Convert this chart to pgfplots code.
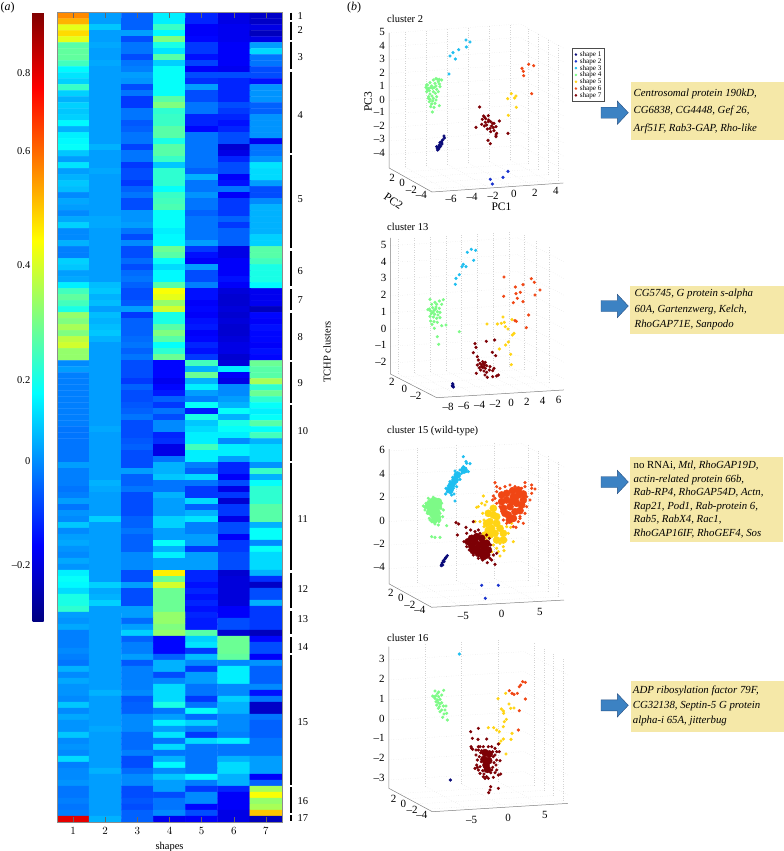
\documentclass[border=0pt]{standalone}
\usepackage{fontspec}
\setmainfont{Liberation Serif}
\usepackage{pgfplots}
\pgfplotsset{compat=1.18}

\definecolor{sa}{RGB}{10,10,120}
\definecolor{sb}{RGB}{25,50,205}
\definecolor{sc}{RGB}{30,190,240}
\definecolor{sd}{RGB}{125,250,135}
\definecolor{se}{RGB}{255,212,20}
\definecolor{sf}{RGB}{240,70,20}
\definecolor{sg}{RGB}{125,0,5}
\definecolor{boxy}{RGB}{245,232,168}
\definecolor{arrowb}{RGB}{60,130,195}
\definecolor{arrowd}{RGB}{40,80,130}

\pgfplotsset{
  pts/.style={only marks, mark=*, mark size=1.4pt, color=#1, mark options={draw=none, fill=#1}},
  core/.style={only marks, mark=*, mark size=3.6pt, color=#1, mark options={draw=none, fill=#1}, forget plot},
  overlay axis/.style={scale only axis, hide axis, clip=false, y dir=reverse, xmin=0, xmax=1332, ymin=0},
  frame3d/.style={
    grid=major, grid style={dotted, black!17, line width=0.3pt},
    axis line style={draw=none}, tick style={draw=none}, clip=false,
    tick label style={font=\fontsize{11}{11}\selectfont, inner sep=1.5pt},
    zticklabel style={xshift=-2.5pt},
    anchor=origin},
}
\newcommand{\framepath}[6]{\addplot3[black!50, line width=0.5pt, forget plot] coordinates {(#1,#4,#6) (#1,#4,#5) (#1,#3,#5) (#2,#3,#5)};}

\begin{document}
\begin{tikzpicture}
\useasboundingbox (0pt,0pt) rectangle (784pt,-851pt);

% (a) heat map, values given as position in the colour scale (0-100)
\begin{axis}[
  at={(57pt,-12.5pt)}, anchor=north west,
  scale only axis, width=225pt, height=809.5pt,
  xmin=0.5, xmax=7.5, ymin=-0.5, ymax=134.5, y dir=reverse,
  xtick={1,...,7}, ytick=\empty,
  axis line style={black!45, line width=0.4pt},
  axis on top,
  major tick length=5pt,
  tick style={black!60, line width=0.4pt},
  tick label style={font=\fontsize{10.5}{10.5}\selectfont},
  xticklabel style={yshift=-2pt},
  xlabel={shapes},
  xlabel style={font=\fontsize{10.5}{10.5}\selectfont, at={(axis description cs:0.5,0)}, anchor=north, yshift=-17pt},
  colormap/jet, point meta min=0, point meta max=100,
  colorbar,
  colorbar style={
    at={(parent axis.north west)}, anchor=north east, xshift=-22pt,
    width=11pt, height=609pt,
    ytick={9.2,26.3,39.7,58.5,77.3,90.1},
    yticklabels={--0.2,0,0.2,0.4,0.6,0.8},
    yticklabel pos=left,
    tick style={draw=none}, axis line style={draw=none},
    yticklabel style={font=\fontsize{10.5}{10.5}\selectfont, inner sep=2pt},
  },
]
\addplot[matrix plot*, mesh/cols=7, point meta=\thisrowno{0}] table[
  row sep=\\, header=false,
  x expr={mod(\coordindex,7)+1}, y expr={floor((\coordindex+0.5)/7)}] {
74\\ 28\\ 22\\ 36\\ 16\\ 10\\ 7\\
70\\ 28\\ 22\\ 36\\ 16\\ 10\\ 7\\
60\\ 32\\ 22\\ 43\\ 12\\ 11\\ 10\\
66\\ 28\\ 28\\ 37\\ 12\\ 11\\ 6\\
60\\ 28\\ 20\\ 50\\ 13\\ 11\\ 10\\
46\\ 29\\ 24\\ 40\\ 18\\ 12\\ 28\\
47\\ 28\\ 24\\ 35\\ 18\\ 12\\ 34\\
47\\ 28\\ 20\\ 46\\ 14\\ 12\\ 24\\
44\\ 29\\ 24\\ 33\\ 19\\ 12\\ 24\\
37\\ 28\\ 25\\ 38\\ 12\\ 11\\ 20\\
35\\ 28\\ 28\\ 38\\ 20\\ 20\\ 20\\
33\\ 28\\ 27\\ 38\\ 17\\ 16\\ 14\\
43\\ 28\\ 20\\ 38\\ 28\\ 16\\ 27\\
33\\ 28\\ 24\\ 38\\ 20\\ 16\\ 27\\
30\\ 28\\ 18\\ 46\\ 20\\ 16\\ 27\\
33\\ 28\\ 18\\ 50\\ 24\\ 20\\ 22\\
32\\ 28\\ 24\\ 42\\ 24\\ 18\\ 22\\
33\\ 28\\ 24\\ 43\\ 16\\ 16\\ 27\\
37\\ 28\\ 21\\ 43\\ 16\\ 14\\ 27\\
30\\ 28\\ 22\\ 46\\ 13\\ 16\\ 27\\
36\\ 28\\ 24\\ 46\\ 24\\ 20\\ 27\\
37\\ 28\\ 24\\ 40\\ 24\\ 20\\ 11\\
38\\ 30\\ 19\\ 46\\ 24\\ 8\\ 24\\
32\\ 28\\ 24\\ 46\\ 24\\ 10\\ 24\\
28\\ 28\\ 24\\ 43\\ 24\\ 16\\ 27\\
35\\ 28\\ 18\\ 32\\ 24\\ 20\\ 35\\
28\\ 29\\ 20\\ 42\\ 22\\ 20\\ 34\\
30\\ 28\\ 20\\ 42\\ 30\\ 12\\ 34\\
32\\ 28\\ 18\\ 42\\ 24\\ 14\\ 28\\
31\\ 28\\ 22\\ 38\\ 24\\ 24\\ 20\\
26\\ 28\\ 24\\ 43\\ 27\\ 12\\ 20\\
29\\ 28\\ 20\\ 44\\ 24\\ 18\\ 26\\
28\\ 28\\ 20\\ 45\\ 24\\ 18\\ 30\\
26\\ 28\\ 27\\ 38\\ 22\\ 18\\ 30\\
29\\ 29\\ 27\\ 38\\ 24\\ 22\\ 30\\
33\\ 29\\ 28\\ 38\\ 24\\ 18\\ 30\\
26\\ 28\\ 24\\ 36\\ 24\\ 22\\ 30\\
26\\ 28\\ 20\\ 37\\ 24\\ 22\\ 33\\
30\\ 28\\ 26\\ 37\\ 28\\ 22\\ 33\\
25\\ 28\\ 20\\ 48\\ 18\\ 10\\ 46\\
25\\ 28\\ 20\\ 46\\ 14\\ 10\\ 46\\
33\\ 28\\ 23\\ 38\\ 12\\ 12\\ 44\\
32\\ 28\\ 20\\ 34\\ 28\\ 12\\ 40\\
28\\ 28\\ 23\\ 37\\ 20\\ 12\\ 40\\
29\\ 28\\ 24\\ 37\\ 20\\ 14\\ 40\\
36\\ 31\\ 22\\ 46\\ 25\\ 12\\ 37\\
44\\ 32\\ 20\\ 62\\ 14\\ 9\\ 11\\
47\\ 30\\ 20\\ 60\\ 14\\ 8\\ 11\\
44\\ 31\\ 21\\ 52\\ 12\\ 8\\ 11\\
40\\ 28\\ 28\\ 58\\ 13\\ 9\\ 6\\
52\\ 31\\ 18\\ 40\\ 12\\ 8\\ 13\\
50\\ 30\\ 22\\ 40\\ 14\\ 9\\ 12\\
54\\ 31\\ 22\\ 46\\ 15\\ 8\\ 14\\
50\\ 32\\ 22\\ 50\\ 12\\ 8\\ 13\\
56\\ 30\\ 23\\ 46\\ 13\\ 9\\ 13\\
58\\ 28\\ 24\\ 38\\ 16\\ 10\\ 12\\
52\\ 28\\ 22\\ 42\\ 14\\ 10\\ 14\\
52\\ 28\\ 24\\ 48\\ 18\\ 8\\ 13\\
26\\ 28\\ 20\\ 13\\ 44\\ 9\\ 48\\
28\\ 28\\ 20\\ 13\\ 30\\ 36\\ 46\\
25\\ 28\\ 20\\ 13\\ 48\\ 12\\ 46\\
25\\ 28\\ 18\\ 11\\ 30\\ 10\\ 54\\
25\\ 28\\ 22\\ 13\\ 36\\ 26\\ 42\\
25\\ 28\\ 20\\ 15\\ 28\\ 26\\ 48\\
25\\ 28\\ 20\\ 22\\ 25\\ 28\\ 42\\
25\\ 28\\ 21\\ 18\\ 38\\ 30\\ 38\\
25\\ 28\\ 22\\ 24\\ 15\\ 38\\ 36\\
25\\ 28\\ 24\\ 20\\ 40\\ 30\\ 38\\
25\\ 28\\ 20\\ 26\\ 32\\ 40\\ 46\\
24\\ 29\\ 20\\ 26\\ 34\\ 38\\ 38\\
24\\ 28\\ 20\\ 16\\ 36\\ 36\\ 44\\
24\\ 28\\ 21\\ 17\\ 36\\ 26\\ 30\\
24\\ 28\\ 22\\ 10\\ 44\\ 36\\ 34\\
24\\ 28\\ 20\\ 10\\ 36\\ 36\\ 34\\
24\\ 28\\ 20\\ 24\\ 36\\ 28\\ 34\\
28\\ 28\\ 20\\ 30\\ 25\\ 16\\ 27\\
25\\ 28\\ 28\\ 30\\ 22\\ 16\\ 43\\
25\\ 28\\ 22\\ 32\\ 34\\ 12\\ 30\\
25\\ 30\\ 22\\ 24\\ 24\\ 20\\ 38\\
24\\ 29\\ 24\\ 24\\ 18\\ 10\\ 42\\
25\\ 28\\ 20\\ 30\\ 18\\ 18\\ 42\\
28\\ 28\\ 20\\ 28\\ 34\\ 8\\ 42\\
24\\ 28\\ 20\\ 28\\ 22\\ 18\\ 46\\
27\\ 28\\ 20\\ 28\\ 30\\ 18\\ 46\\
26\\ 33\\ 22\\ 33\\ 35\\ 10\\ 46\\
32\\ 28\\ 22\\ 33\\ 25\\ 20\\ 30\\
26\\ 28\\ 24\\ 28\\ 25\\ 20\\ 38\\
28\\ 28\\ 22\\ 28\\ 28\\ 12\\ 38\\
29\\ 28\\ 22\\ 38\\ 28\\ 18\\ 26\\
27\\ 28\\ 22\\ 30\\ 18\\ 18\\ 38\\
26\\ 28\\ 26\\ 36\\ 28\\ 20\\ 34\\
29\\ 28\\ 26\\ 28\\ 28\\ 20\\ 34\\
27\\ 28\\ 26\\ 28\\ 28\\ 20\\ 34\\
36\\ 28\\ 20\\ 64\\ 16\\ 8\\ 30\\
38\\ 28\\ 20\\ 48\\ 16\\ 9\\ 17\\
37\\ 33\\ 28\\ 58\\ 14\\ 9\\ 7\\
34\\ 29\\ 20\\ 48\\ 16\\ 9\\ 20\\
40\\ 30\\ 20\\ 48\\ 14\\ 9\\ 20\\
40\\ 33\\ 20\\ 48\\ 16\\ 9\\ 30\\
42\\ 28\\ 28\\ 48\\ 14\\ 12\\ 18\\
28\\ 28\\ 28\\ 52\\ 16\\ 12\\ 18\\
27\\ 28\\ 23\\ 52\\ 15\\ 20\\ 18\\
29\\ 28\\ 28\\ 50\\ 15\\ 20\\ 18\\
25\\ 28\\ 33\\ 52\\ 46\\ 8\\ 6\\
25\\ 28\\ 22\\ 13\\ 33\\ 48\\ 13\\
25\\ 28\\ 25\\ 13\\ 35\\ 48\\ 20\\
26\\ 28\\ 25\\ 13\\ 18\\ 48\\ 20\\
25\\ 28\\ 28\\ 22\\ 31\\ 47\\ 12\\
24\\ 28\\ 21\\ 30\\ 26\\ 26\\ 27\\
30\\ 28\\ 25\\ 30\\ 18\\ 36\\ 22\\
26\\ 28\\ 25\\ 20\\ 28\\ 36\\ 22\\
29\\ 28\\ 25\\ 26\\ 28\\ 36\\ 22\\
27\\ 28\\ 25\\ 34\\ 24\\ 26\\ 26\\
27\\ 30\\ 26\\ 34\\ 24\\ 26\\ 14\\
26\\ 28\\ 21\\ 34\\ 18\\ 33\\ 24\\
32\\ 28\\ 22\\ 40\\ 24\\ 30\\ 7\\
26\\ 28\\ 22\\ 24\\ 38\\ 30\\ 7\\
29\\ 28\\ 26\\ 28\\ 23\\ 26\\ 24\\
27\\ 28\\ 26\\ 36\\ 33\\ 26\\ 22\\
27\\ 29\\ 26\\ 28\\ 25\\ 26\\ 22\\
32\\ 28\\ 23\\ 35\\ 18\\ 25\\ 22\\
26\\ 28\\ 23\\ 24\\ 34\\ 36\\ 24\\
27\\ 28\\ 23\\ 34\\ 24\\ 24\\ 24\\
26\\ 28\\ 25\\ 24\\ 24\\ 24\\ 24\\
34\\ 28\\ 20\\ 30\\ 24\\ 30\\ 28\\
25\\ 28\\ 20\\ 37\\ 24\\ 34\\ 28\\
26\\ 30\\ 23\\ 26\\ 24\\ 34\\ 28\\
26\\ 28\\ 26\\ 32\\ 37\\ 30\\ 12\\
27\\ 28\\ 26\\ 28\\ 25\\ 30\\ 22\\
24\\ 28\\ 20\\ 28\\ 18\\ 16\\ 54\\
24\\ 28\\ 20\\ 20\\ 26\\ 12\\ 62\\
25\\ 28\\ 21\\ 24\\ 26\\ 12\\ 52\\
24\\ 28\\ 20\\ 24\\ 13\\ 12\\ 54\\
25\\ 28\\ 22\\ 26\\ 20\\ 10\\ 68\\
90\\ 30\\ 22\\ 11\\ 12\\ 10\\ 6\\
};
\end{axis}

% (b) 3D frames
\begin{axis}[frame3d, at={(485.75pt,-105.1pt)},
  x={(10.5pt,0.72pt)}, y={(-5pt,2.8pt)}, z={(0pt,13.5pt)},
  xmin=-7.5, xmax=5, ymin=-5, ymax=3.6, zmin=-5, zmax=5,
  xtick={-6,-4,-2,0,2,4}, xticklabels={--6,--4,--2,0,2,4},
  xticklabel style={yshift=-2pt},
  ytick={-4,-2,0,2}, yticklabels={--4,--2,0,2},
  ztick={-4,...,5}, zticklabels={--4,--3,--2,--1,0,1,2,3,4,5}]
\framepath{-7.5}{5}{-5}{3.6}{-5}{5}
\end{axis}
\begin{axis}[frame3d, at={(480.3pt,-334.7pt)},
  x={(7.9pt,0.48pt)}, y={(-6.25pt,3.2pt)}, z={(0pt,16.76pt)},
  xmin=-9, xmax=7.1, ymin=-4.4, ymax=3, zmin=-2.66, zmax=5.46,
  xtick={-8,-6,-4,-2,0,2,4,6}, xticklabels={--8,--6,--4,--2,0,2,4,6},
  xticklabel style={yshift=-4pt},
  ytick={-2,0,2}, yticklabels={--2,0,2},
  ztick={-2,...,5}, zticklabels={--2,--1,0,1,2,3,4,5}]
\framepath{-9}{7.1}{-4.4}{3}{-2.66}{5.46}
\end{axis}
\begin{axis}[frame3d, at={(472.4pt,-526.95pt)},
  x={(7.67pt,0.42pt)}, y={(-5pt,2.75pt)}, z={(0pt,11.77pt)},
  xmin=-8.7, xmax=8.55, ymin=-5.2, ymax=3.3, zmin=-5.3, zmax=6.15,
  xtick={-5,0,5}, xticklabels={--5,0,5},
  xticklabel style={yshift=-5pt},
  ytick={-4,-2,0,2}, yticklabels={--4,--2,0,2},
  ztick={-4,-2,0,2,4,6}, zticklabels={--4,--2,0,2,4,6}]
\framepath{-8.7}{8.55}{-5.2}{3.3}{-5.3}{6.15}
\end{axis}
\begin{axis}[frame3d, at={(480.75pt,-725.85pt)},
  x={(7.33pt,0.45pt)}, y={(-4.83pt,2.6pt)}, z={(0pt,20pt)},
  xmin=-9.9, xmax=8.6, ymin=-5, ymax=4, zmin=-3.42, zmax=3.67,
  xtick={-5,0,5}, xticklabels={--5,0,5},
  xticklabel style={yshift=-5pt},
  ytick={-4,-2,0,2}, yticklabels={--4,--2,0,2},
  ztick={-3,...,3}, zticklabels={--3,--2,--1,0,1,2,3}]
\framepath{-9.9}{8.6}{-5}{4}{-3.42}{3.67}
\end{axis}

% points as projected on the page, cluster 2
\begin{axis}[overlay axis, at={(340pt,0pt)}, anchor=north west, width=444pt, height=220pt, ymax=660,
  legend style={at={(axis cs:695,145)}, anchor=north west, draw=black!70, line width=0.5pt,
    font=\fontsize{7.1}{7.1}\selectfont, inner xsep=3pt, inner ysep=3pt, row sep=0.9pt,
    /tikz/column sep=3pt, legend cell align=left,
    nodes={inner sep=0pt, text height=5pt, text depth=0.9pt}},
  legend image code/.code={\draw[#1, mark size=1pt] plot coordinates {(0.25em,0pt)};}]
\addplot[pts=sa] coordinates {(312,408)(313,414)(308,420)(304,425)(306,432)(300,428)(298,435)(295,440)(292,445)(296,447)(302,438)(299,442)(305,428)(290,440)(293,450)};
\addplot[pts=sb] coordinates {(504,514)(489,532)(451,538)(457,552)};
\addplot[pts=sc] coordinates {(378,120)(390,126)(379,141)(356,149)(339,158)(330,168)(346,177)(327,222)};
\addplot[pts=sd] coordinates {(262,255)(270,248)(280,240)(288,236)(298,238)(305,240)(265,265)(275,258)(285,250)(295,245)(258,262)(268,272)(278,265)(288,258)(298,252)(260,275)(270,282)(280,275)(290,268)(300,260)(266,290)(276,288)(286,280)(270,298)(280,295)(290,290)(268,305)(278,303)(288,300)(275,312)(285,310)(298,317)(272,320)(282,322)(277,336)(265,295)(295,275)(262,268)(283,262)(272,262)(260,255)(292,238)};
\addplot[pts=se] coordinates {(514,281)(528,288)(524,294)(503,296)(529,322)(505,346)};
\addplot[pts=sf] coordinates {(566,193)(581,197)(546,205)(550,214)(551,227)(575,281)};
\addplot[pts=sg] coordinates {(419,321)(431,348)(445,347)(437,356)(408,382)(425,373)(436,367)(446,360)(452,365)(478,363)(462,370)(440,375)(455,378)(468,380)(450,385)(442,387)(462,392)(470,400)(468,410)(504,400)(444,421)(451,431)(468,405)(433,378)(452,395)(458,370)(445,365)(434,352)(460,383)(427,358)};
\legend{shape 1,shape 2,shape 3,shape 4,shape 5,shape 6,shape 7}
\end{axis}

% cluster 13
\begin{axis}[overlay axis, at={(340pt,-215pt)}, anchor=north west, width=444pt, height=210pt, ymax=630]
\addplot[pts=sa] coordinates {(338,506)(339,510)(338,514)(340,516)(337,512)};
\addplot[pts=sc] coordinates {(382,112)(394,103)(407,106)(401,136)(370,148)(378,155)(366,155)(358,179)(348,190)(346,208)};
\addplot[pts=sd] coordinates {(270,253)(310,254)(298,258)(285,262)(275,268)(290,268)(305,268)(268,282)(278,278)(288,276)(298,280)(264,284)(272,288)(282,286)(292,290)(300,292)(274,296)(284,298)(294,300)(270,304)(280,306)(290,310)(300,308)(272,318)(282,320)(292,322)(276,328)(305,332)(318,330)(283,340)(358,350)(292,365)(296,388)(287,282)(279,292)};
\addplot[pts=se] coordinates {(441,327)(472,327)(484,325)(493,322)(489,306)(516,314)(496,335)(504,342)(522,355)(517,360)(505,381)(497,390)(478,402)(512,418)(514,449)};
\addplot[pts=sf] coordinates {(492,186)(574,191)(583,202)(600,225)(549,209)(526,216)(541,232)(528,236)(585,240)(491,244)(532,250)(520,263)(549,260)(566,300)(525,317)(529,319)(559,338)};
\addplot[pts=sg] coordinates {(405,386)(439,379)(464,375)(408,397)(400,413)(457,412)(467,422)(412,425)(415,435)(428,440)(436,442)(420,445)(412,450)(425,450)(433,450)(440,452)(450,455)(462,460)(418,458)(428,458)(436,460)(409,475)(422,465)(432,468)(440,472)(448,465)(458,467)(435,480)(442,487)(458,485)(475,480)(470,483)(430,445)(425,455)(432,456)};
\end{axis}

% cluster 15
\begin{axis}[overlay axis, at={(340pt,-420pt)}, anchor=north west, width=444pt, height=215pt, ymax=645]
\addplot[pts=sa] coordinates {(322,407)(318,412)(314,418)(310,422)(307,428)(305,433)(304,437)(308,435)(312,425)(316,415)};
\addplot[pts=sb] coordinates {(425,496)(475,496)(436,535)};
\addplot[core=sc] coordinates {(335,195)(345,180)(330,210)(352,165)(372,150)};
\addplot[pts=sc] coordinates {(370,110)(378,125)(390,131)(380,130)(370,140)(375,150)(385,155)(360,150)(345,153)(365,160)(355,165)(348,170)(338,172)(350,180)(360,178)(340,182)(330,185)(345,190)(335,195)(325,198)(318,205)(330,205)(340,205)(350,200)(322,215)(332,218)(342,222)(317,222)(345,243)(335,225)(328,195)(338,188)(342,175)(325,210)};
\addplot[core=sd] coordinates {(275,265)(285,255)(290,275)(280,285)(270,250)(292,292)(265,258)(295,258)(270,275)(283,300)(282,242)(295,245)};
\addplot[pts=sd] coordinates {(265,235)(280,232)(295,240)(250,258)(255,270)(305,250)(310,270)(300,300)(262,280)(268,295)(275,305)(285,312)(295,315)(320,317)(308,290)(258,250)(303,265)(272,240)(290,238)(255,262)(297,305)(300,280)(275,350)(285,352)(300,352)(270,300)};
\addplot[core=se] coordinates {(460,285)(450,305)(470,310)(445,330)(465,340)(490,340)(445,280)(460,265)(470,290)(440,310)(455,325)(480,325)(450,345)(470,360)(490,360)(435,345)};
\addplot[pts=se] coordinates {(430,228)(415,260)(425,250)(435,255)(440,245)(410,262)(428,280)(432,300)(420,305)(405,305)(432,320)(500,320)(512,322)(505,340)(520,365)(498,360)(480,370)(490,380)(470,385)(460,375)(480,408)(492,392)(475,395)(455,395)(515,310)(485,355)(470,360)(450,350)(440,360)};
\addplot[core=sf] coordinates {(500,240)(520,230)(535,225)(510,260)(530,250)(505,285)(525,275)(520,295)(485,225)(500,220)(518,212)(535,210)(550,222)(550,240)(485,245)(490,265)(545,255)(540,272)(508,300)(525,240)(515,245)(495,280)};
\addplot[pts=sf] coordinates {(465,188)(470,200)(555,188)(575,205)(585,207)(555,200)(575,220)(545,205)(460,228)(470,215)(480,205)(495,200)(510,195)(525,200)(560,230)(570,240)(550,250)(560,260)(545,270)(555,280)(540,290)(535,305)(520,320)(500,310)(490,300)(540,295)(550,310)(528,322)(575,195)(470,250)(465,235)(458,240)(480,260)(485,275)};
\addplot[core=sg] coordinates {(405,365)(420,375)(435,385)(410,385)(425,395)(440,405)(395,355)(430,370)(385,365)(395,378)(410,350)(425,355)(440,370)(445,390)(415,400)(430,410)(400,392)};
\addplot[pts=sg] coordinates {(348,308)(356,312)(352,345)(378,322)(400,305)(392,330)(380,340)(372,365)(380,380)(388,390)(400,405)(415,415)(428,420)(442,428)(465,433)(455,420)(450,395)(452,375)(448,355)(440,345)(420,340)(405,335)(415,330)(450,415)(470,400)(460,405)};
\end{axis}

% cluster 16
\begin{axis}[overlay axis, at={(340pt,-630pt)}, anchor=north west, width=444pt, height=221pt, ymax=663]
\addplot[pts=sa] coordinates {(331,450)};
\addplot[pts=sc] coordinates {(358,72)};
\addplot[pts=sd] coordinates {(285,183)(296,186)(311,181)(278,198)(288,197)(296,200)(305,195)(285,205)(292,210)(300,208)(282,200)(295,218)(305,218)(290,225)(298,230)(310,228)(318,228)(295,235)(305,240)(315,240)(300,245)(312,252)(320,250)(308,262)(322,270)(300,222)(288,215)(293,190)};
\addplot[pts=se] coordinates {(497,190)(474,206)(507,222)(484,237)(490,243)(512,235)(522,234)(491,250)(499,268)(493,275)(490,290)(445,293)(461,293)(478,305)(516,310)(513,328)(490,327)(483,333)(478,340)(498,372)(470,300)};
\addplot[pts=sf] coordinates {(548,155)(556,157)(542,165)(538,170)(508,182)(516,190)(532,190)(522,193)(556,207)(538,242)(535,300)};
\addplot[core=sg] coordinates {(435,368)(448,372)(432,388)(446,392)(438,405)(442,418)};
\addplot[pts=sg] coordinates {(420,350)(430,350)(445,350)(455,350)(465,355)(470,365)(415,360)(408,375)(412,390)(410,405)(405,415)(415,420)(420,430)(430,440)(445,445)(460,442)(475,435)(482,432)(470,420)(468,405)(470,390)(465,375)(395,355)(415,295)(392,305)(397,325)(414,328)(440,327)(475,342)(393,350)(398,358)(452,470)(450,480)(475,475)(446,488)(478,365)(480,392)(435,445)(422,368)(418,380)(424,395)(420,410)(428,422)(458,365)(460,380)(462,398)(458,412)(452,428)(440,440)(425,362)(415,350)(455,420)(465,428)(412,412)(432,432)(408,360)};
\end{axis}

% annotations, in page units from the top left
\begin{scope}[x=1pt, y=-1pt, font=\fontsize{10.5}{10.5}\selectfont]
\node[anchor=west, inner sep=0.5pt, font=\fontsize{12}{12}\selectfont] at (0,8) {(\textit{a})};
\node[anchor=west, inner sep=0.5pt, font=\fontsize{12}{12}\selectfont] at (346.5,8) {(\textit{b})};
\foreach \ya/\yb/\yl/\n in {12.7/20/16/1,21.7/40/30/2,41.7/69/57/3,72/153/115/4,155/248/199/5,251/286/271/6,289/310/300/7,313/360/337/8,362/403/383/9,405/461/431/10,463/570/519/11,573/608/589/12,611/634/619/13,637/653/647/14,655/785/722/15,787/813/801/16,815/821/818/17}{
  \draw[line width=1.1pt] (291,\ya) -- (291,\yb);
  \node[anchor=west, inner sep=0pt] at (297.5,\yl) {\n};
}
\node[rotate=90] at (327,352) {TCHP clusters};
\node[anchor=west, inner sep=0pt] at (387,19) {cluster 2};
\node[anchor=west, inner sep=0pt] at (387,226.7) {cluster 13};
\node[anchor=west, inner sep=0pt] at (387,431.3) {cluster 15 (wild-type)};
\node[anchor=west, inner sep=0pt] at (387,637.7) {cluster 16};
\node[font=\fontsize{11.5}{11.5}\selectfont] at (501.5,207) {PC1};
\node[rotate=-35, inner sep=0pt, font=\fontsize{11.5}{11.5}\selectfont] at (393.5,201) {PC2};
\node[rotate=90, font=\fontsize{11.5}{11.5}\selectfont] at (368,102) {PC3};

\foreach \t in {112.7,306,482,705.3}{
  \filldraw[fill=arrowb, draw=arrowd, line width=0.4pt]
    (601,\t-5.5) -- (617.3,\t-5.5) -- (617.3,\t-11.7) -- (628.3,\t) -- (617.3,\t+11.7)
    -- (617.3,\t+5.5) -- (601,\t+5.5) -- cycle;
}
\fill[boxy] (630.7,82.3) rectangle (784,140);
\fill[boxy] (630,286) rectangle (784,333.7);
\fill[boxy] (630,457.3) rectangle (783.3,541.7);
\fill[boxy] (630.7,681) rectangle (784,731.7);
\node[anchor=west, align=left, inner sep=0pt, font=\fontsize{10.8}{17.3}\selectfont\itshape] at (633.5,111.3) {Centrosomal protein 190kD,\\CG6838, CG4448, Gef 26,\\Arf51F, Rab3-GAP, Rho-like};
\node[anchor=west, align=left, inner sep=0pt, font=\fontsize{10.8}{15.5}\selectfont\itshape] at (634.5,309.8) {CG5745, G protein s-alpha\\60A, Gartenzwerg, Kelch,\\RhoGAP71E, Sanpodo};
\node[anchor=west, align=left, inner sep=0pt, font=\fontsize{10.8}{13.6}\selectfont\itshape] at (633.5,499.5) {\textup{no RNAi,} Mtl, RhoGAP19D,\\actin-related protein 66b,\\Rab-RP4, RhoGAP54D, Actn,\\Rap21, Pod1, Rab-protein 6,\\Rab5, RabX4, Rac1,\\RhoGAP16IF, RhoGEF4, Sos};
\node[anchor=west, align=left, inner sep=0pt, font=\fontsize{10.8}{15}\selectfont\itshape] at (632.7,706.3) {ADP ribosylation factor 79F,\\CG32138, Septin-5 G protein\\alpha-i 65A, jitterbug};
\end{scope}
\end{tikzpicture}
\end{document}
